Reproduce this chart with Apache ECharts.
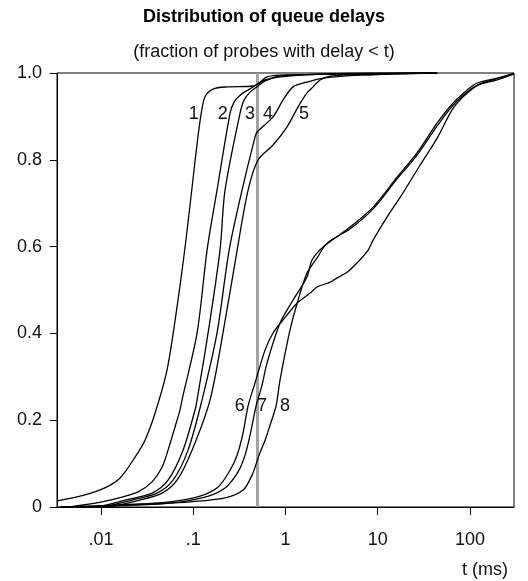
<!DOCTYPE html>
<html>
<head>
<meta charset="utf-8">
<script src="https://cdn.jsdelivr.net/npm/echarts@6/dist/echarts.min.js"></script>
<style>
  html, body { margin: 0; padding: 0; background: #fff; }
  #chart { width: 528px; height: 581px; }
</style>
</head>
<body>
<div id="chart"></div>
<script>
// fraction of probes with delay < t, t in ms
const curve1 = [[0.00333,0.014],[0.0067,0.028],[0.011,0.044],[0.0161,0.067],[0.0234,0.115],[0.030,0.154],[0.0385,0.216],[0.052,0.316],[0.0667,0.461],[0.0835,0.617],[0.105,0.80],[0.119,0.892],[0.134,0.945],[0.164,0.963],[0.233,0.968],[0.446,0.970],[0.53,0.979],[0.63,0.991],[0.87,0.995],[3.05,0.997],[44,1.0]];
const curve2 = [[0.0041,0],[0.0052,0.002],[0.01025,0.012],[0.0169,0.023],[0.0252,0.035],[0.0357,0.058],[0.0459,0.092],[0.0533,0.131],[0.0667,0.200],[0.0719,0.224],[0.0756,0.247],[0.110,0.401],[0.1412,0.592],[0.181,0.730],[0.251,0.908],[0.277,0.933],[0.322,0.949],[0.393,0.961],[0.505,0.975],[0.601,0.984],[0.873,0.993],[3.05,0.998],[44,1.0]];
const curve3 = [[0.00523,0],[0.00975,0.002],[0.0182,0.016],[0.0357,0.032],[0.0533,0.062],[0.0775,0.131],[0.1047,0.224],[0.110,0.247],[0.1448,0.401],[0.195,0.592],[0.221,0.730],[0.322,0.908],[0.356,0.938],[0.413,0.956],[0.505,0.970],[0.601,0.982],[0.873,0.991],[3.05,0.998],[44,1.0]];
const curve4 = [[0.00592,0],[0.011,0.002],[0.0217,0.016],[0.0404,0.032],[0.0604,0.062],[0.0878,0.131],[0.1246,0.247],[0.181,0.401],[0.245,0.592],[0.338,0.730],[0.468,0.853],[0.492,0.864],[0.733,0.899],[0.942,0.938],[1.21,0.968],[1.71,0.979],[2.56,0.988],[6.44,0.995],[44,1.0]];
const curve5 = [[0.0067,0],[0.01253,0.002],[0.0265,0.016],[0.0459,0.032],[0.0667,0.062],[0.097,0.131],[0.1522,0.247],[0.21,0.401],[0.299,0.592],[0.393,0.730],[0.505,0.800],[0.733,0.834],[1.04,0.876],[1.37,0.922],[1.71,0.954],[1.99,0.968],[2.37,0.984],[3.05,0.993],[10.6,0.998],[44,1.0]];
const curve6 = [[0.00359,0],[0.0161,0.005],[0.056,0.012],[0.1186,0.025],[0.186,0.046],[0.251,0.085],[0.299,0.120],[0.347,0.171],[0.393,0.233],[0.468,0.286],[0.601,0.362],[0.733,0.401],[0.942,0.431],[1.34,0.470],[1.85,0.493],[2.20,0.507],[3.05,0.518],[3.63,0.528],[4.66,0.541],[6.13,0.565],[7.87,0.592],[8.91,0.615],[12.6,0.668],[18.8,0.724],[28.8,0.788],[44.1,0.850],[65.7,0.919],[93.3,0.954],[129,0.975],[188,0.986],[273,0.995],[300,0.998]];
const curve7 = [[0.00407,0],[0.0161,0.003],[0.056,0.009],[0.1343,0.023],[0.221,0.044],[0.306,0.081],[0.365,0.120],[0.424,0.177],[0.480,0.233],[0.557,0.281],[0.631,0.332],[0.873,0.424],[1.21,0.477],[1.71,0.530],[1.94,0.569],[2.56,0.599],[5.02,0.645],[8.91,0.691],[16.2,0.760],[26.7,0.816],[44.1,0.885],[65.7,0.931],[93.3,0.961],[120,0.977],[197,0.988],[300,1.0]];
const curve8 = [[0.00359,0],[0.00975,0.002],[0.034,0.007],[0.0923,0.012],[0.221,0.021],[0.347,0.039],[0.435,0.074],[0.518,0.120],[0.601,0.154],[0.681,0.189],[0.791,0.233],[0.873,0.293],[1.12,0.408],[1.37,0.477],[1.71,0.539],[2.20,0.574],[2.83,0.608],[5.02,0.641],[8.91,0.687],[16.2,0.756],[26.7,0.811],[44.1,0.878],[65.7,0.926],[93.3,0.956],[120,0.972],[197,0.984],[300,0.998]];
const curves = [curve1, curve2, curve3, curve4, curve5, curve6, curve7, curve8];

// curve numbers written on the plot
const labelNames = ['1', '2', '3', '4', '5', '6', '7', '8'];
const labelT = [0.101, 0.209, 0.413, 0.648, 1.59, 0.32, 0.557, 0.99];
const labelV = [0.906, 0.906, 0.906, 0.906, 0.906, 0.233, 0.233, 0.233];

const xTicks = [0.01, 0.1, 1, 10, 100];
const xTickText = ['.01', '.1', '1', '10', '100'];
const cutoff = 0.5; // grey marker, ms

const font = 'Liberation Sans, Arial, sans-serif';
const chart = echarts.init(document.getElementById('chart'));

const series = curves.map((c, i) => ({
  name: 'c' + (i + 1),
  type: 'line',
  data: c,
  showSymbol: false,
  smooth: 0.3,
  lineStyle: { color: '#000', width: 1.3 },
  z: 3
}));
// vertical grey line at 0.5 ms
series[0].markLine = {
  silent: true,
  symbol: 'none',
  label: { show: false },
  lineStyle: { color: '#a3a3a3', width: 3, type: 'solid' },
  data: [{ xAxis: cutoff }],
  z: 2
};
series.push({
  type: 'scatter',
  data: labelNames.map((n, i) => [labelT[i], labelV[i], n]),
  symbolSize: 1,
  itemStyle: { color: 'rgba(0,0,0,0)', opacity: 1 },
  label: {
    show: true,
    position: 'inside',
    formatter: p => p.value[2],
    fontFamily: font,
    fontSize: 18,
    color: '#111'
  },
  z: 4
});

chart.setOption({
  animation: false,
  backgroundColor: '#fff',
  title: [
    { text: 'Distribution of queue delays', left: 'center', top: 3,
      textStyle: { fontFamily: font, fontSize: 18, fontWeight: 'bold', color: '#000' } },
    { text: '(fraction of probes with delay < t)', left: 'center', top: 38,
      textStyle: { fontFamily: font, fontSize: 18, fontWeight: 'normal', color: '#111' } },
    { text: 't (ms)', right: 15, top: 556,
      textStyle: { fontFamily: font, fontSize: 18, fontWeight: 'normal', color: '#111' } }
  ],
  grid: {
    left: 57, right: 14, top: 73, bottom: 74,
    show: true, borderColor: '#000', borderWidth: 1
  },
  xAxis: {
    type: 'log',
    logBase: 10,
    min: 1 / 300,
    max: 300,
    axisLine: { show: true, lineStyle: { color: '#000', width: 1 } },
    axisTick: { show: true, inside: false, length: 8, customValues: xTicks, lineStyle: { color: '#000' } },
    axisLabel: {
      customValues: xTicks,
      margin: 24,
      fontFamily: font, fontSize: 18, color: '#111',
      formatter: v => {
        const k = xTicks.findIndex(t => Math.abs(t - v) / t < 1e-6);
        return k >= 0 ? xTickText[k] : '';
      }
    },
    splitLine: { show: false }
  },
  yAxis: {
    type: 'value',
    min: 0,
    max: 1,
    interval: 0.2,
    axisLine: { show: true, lineStyle: { color: '#000', width: 1 } },
    axisTick: { show: true, inside: false, length: 7, lineStyle: { color: '#000' } },
    axisLabel: {
      margin: 15,
      fontFamily: font, fontSize: 18, color: '#111',
      formatter: v => (v === 0 ? '0' : v.toFixed(1))
    },
    splitLine: { show: false }
  },
  series
});
</script>
</body>
</html>
